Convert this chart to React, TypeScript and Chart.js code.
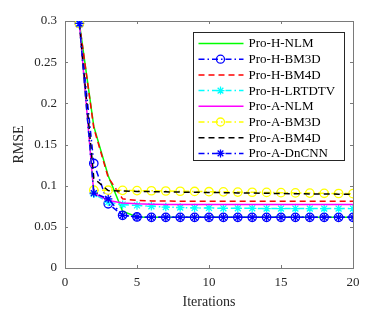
import React, { useEffect, useRef } from 'react';
import { Chart, registerables } from 'chart.js';

Chart.register(...registerables);

const iterations = [1, 2, 3, 4, 5, 6, 7, 8, 9, 10, 11, 12, 13, 14, 15, 16, 17, 18, 19, 20];

const seriesNames = [
  'Pro-H-NLM',
  'Pro-H-BM3D',
  'Pro-H-BM4D',
  'Pro-H-LRTDTV',
  'Pro-A-NLM',
  'Pro-A-BM3D',
  'Pro-A-BM4D',
  'Pro-A-DnCNN',
];

const hNLM = [0.297, 0.172, 0.112, 0.069, 0.062, 0.0615, 0.0615, 0.0615, 0.0615, 0.0615, 0.0615, 0.0615, 0.0615, 0.0615, 0.0615, 0.0615, 0.0615, 0.0615, 0.0615, 0.0615];
const hBM3D = [0.297, 0.127, 0.078, 0.064, 0.062, 0.0615, 0.0615, 0.0615, 0.0615, 0.0615, 0.0615, 0.0615, 0.0615, 0.0615, 0.0615, 0.0615, 0.0615, 0.0615, 0.0615, 0.0615];
const hBM4D = [0.297, 0.170, 0.110, 0.084, 0.082, 0.0815, 0.0815, 0.081, 0.081, 0.081, 0.081, 0.081, 0.081, 0.081, 0.081, 0.081, 0.081, 0.081, 0.081, 0.081];
const hLRTDTV = [0.297, 0.090, 0.080, 0.077, 0.076, 0.075, 0.074, 0.0735, 0.073, 0.073, 0.0725, 0.0725, 0.0725, 0.0722, 0.0722, 0.0722, 0.0722, 0.0722, 0.0722, 0.0722];
const aNLM = [0.297, 0.091, 0.082, 0.079, 0.078, 0.0775, 0.077, 0.077, 0.077, 0.077, 0.077, 0.077, 0.077, 0.077, 0.077, 0.077, 0.077, 0.077, 0.077, 0.077];
const aBM3D = [0.297, 0.0945, 0.0945, 0.0943, 0.094, 0.0938, 0.0935, 0.0932, 0.093, 0.0927, 0.0925, 0.0922, 0.092, 0.0918, 0.0915, 0.0912, 0.091, 0.0907, 0.0905, 0.0903];
const aBM4D = [0.297, 0.109, 0.094, 0.0935, 0.093, 0.0928, 0.0925, 0.0922, 0.092, 0.0917, 0.0915, 0.0912, 0.091, 0.0907, 0.0905, 0.0902, 0.09, 0.0898, 0.0897, 0.0895];
const aDnCNN = [0.297, 0.091, 0.084, 0.064, 0.062, 0.0615, 0.0615, 0.0615, 0.0615, 0.0615, 0.0615, 0.0615, 0.0615, 0.0615, 0.0615, 0.0615, 0.0615, 0.0615, 0.0615, 0.0615];

const xTicks = [0, 5, 10, 15, 20];
const yTicks = [0, 0.05, 0.1, 0.15, 0.2, 0.25, 0.3];

const seriesValues = [hNLM, hBM3D, hBM4D, hLRTDTV, aNLM, aBM3D, aBM4D, aDnCNN];
const seriesColors = ['#00ff00', '#0000ff', '#ff0000', '#00ffff', '#ff00ff', '#ffff00', '#000000', '#0000ff'];
const seriesMarkers: (string | null)[] = [null, 'circle', null, 'star', null, 'circle', null, 'star'];
const DASH = [6, 4];
const DASHDOT = [6, 3, 1.5, 3];
const seriesDash = [[], DASHDOT, DASH, DASHDOT, [], DASHDOT, DASH, DASHDOT];

const FONT = "'Liberation Serif', 'Times New Roman', serif";
const AXIS_COLOR = '#262626';
const LINE_W = 1.5;

function drawMarker(ctx: CanvasRenderingContext2D, type: string, x: number, y: number, r: number, color: string) {
  ctx.save();
  ctx.setLineDash([]);
  ctx.strokeStyle = color;
  ctx.lineWidth = 1.3;
  ctx.beginPath();
  if (type === 'circle') {
    ctx.arc(x, y, r, 0, Math.PI * 2);
  } else {
    for (let k = 0; k < 4; k++) {
      const a = (k * Math.PI) / 4;
      ctx.moveTo(x - Math.cos(a) * r, y - Math.sin(a) * r);
      ctx.lineTo(x + Math.cos(a) * r, y + Math.sin(a) * r);
    }
  }
  ctx.stroke();
  ctx.restore();
}

const framePlugin = {
  id: 'frame',
  beforeDatasetsDraw(chart: any) {
    const { ctx, chartArea } = chart;
    const { left, right, top, bottom } = chartArea;
    ctx.save();
    ctx.strokeStyle = '#7a7a7a';
    ctx.lineWidth = 1;
    ctx.setLineDash([]);
    ctx.strokeRect(Math.round(left) + 0.5, Math.round(top) + 0.5, Math.round(right - left), Math.round(bottom - top));
    ctx.beginPath();
    const tl = 3;
    xTicks.forEach((v) => {
      const px = Math.round(chart.scales.x.getPixelForValue(v)) + 0.5;
      ctx.moveTo(px, bottom);
      ctx.lineTo(px, bottom - tl);
      ctx.moveTo(px, top);
      ctx.lineTo(px, top + tl);
    });
    yTicks.forEach((v) => {
      const py = Math.round(chart.scales.y.getPixelForValue(v)) + 0.5;
      ctx.moveTo(left, py);
      ctx.lineTo(left + tl, py);
      ctx.moveTo(right, py);
      ctx.lineTo(right - tl, py);
    });
    ctx.stroke();
    ctx.restore();
  },
};

const legendPlugin = {
  id: 'boxLegend',
  afterDatasetsDraw(chart: any) {
    const { ctx, chartArea } = chart;
    const w = 151;
    const h = 128;
    const x0 = Math.round(chartArea.right - 160) + 0.5;
    const y0 = Math.round(chartArea.top + 11) + 0.5;
    ctx.save();
    ctx.fillStyle = '#ffffff';
    ctx.fillRect(x0, y0, w, h);
    ctx.strokeStyle = '#262626';
    ctx.lineWidth = 1;
    ctx.setLineDash([]);
    ctx.strokeRect(x0, y0, w, h);
    const rowH = 15.7;
    seriesNames.forEach((name, i) => {
      const cy = y0 + 11 + i * rowH;
      ctx.save();
      ctx.strokeStyle = seriesColors[i];
      ctx.lineWidth = LINE_W;
      ctx.setLineDash(seriesDash[i]);
      ctx.beginPath();
      ctx.moveTo(x0 + 5, cy);
      ctx.lineTo(x0 + 50, cy);
      ctx.stroke();
      ctx.restore();
      const m = seriesMarkers[i];
      if (m) drawMarker(ctx, m, x0 + 27, cy, 4, seriesColors[i]);
      ctx.fillStyle = '#000000';
      ctx.font = `13px ${FONT}`;
      ctx.textBaseline = 'middle';
      ctx.textAlign = 'left';
      ctx.fillText(name, x0 + 55, cy + 0.5);
    });
    ctx.restore();
  },
};

export default function App() {
  const canvasRef = useRef<HTMLCanvasElement | null>(null);

  useEffect(() => {
    const canvas = canvasRef.current;
    if (!canvas) return;
    const datasets = seriesNames.map((name, i) => ({
      label: name,
      data: seriesValues[i].map((v, j) => ({ x: iterations[j], y: v })),
      borderColor: seriesColors[i],
      backgroundColor: 'rgba(0,0,0,0)',
      borderWidth: LINE_W,
      borderDash: seriesDash[i],
      pointStyle: seriesMarkers[i] === 'star' ? 'star' : 'circle',
      pointRadius: seriesMarkers[i] ? 4.2 : 0,
      pointBorderWidth: 1.3,
      pointBorderColor: seriesColors[i],
      pointBackgroundColor: 'rgba(0,0,0,0)',
      tension: 0,
      fill: false,
      order: seriesNames.length - 1 - i,
    }));

    const chart = new Chart(canvas, {
      type: 'line',
      data: { datasets },
      options: {
        animation: false,
        responsive: false,
        devicePixelRatio: 1,
        layout: { padding: { top: 21, right: 28, left: 0, bottom: 0 } },
        plugins: {
          legend: { display: false },
          tooltip: { enabled: false },
        },
        scales: {
          x: {
            type: 'linear',
            min: 0,
            max: 20,
            grid: { display: false, drawTicks: false },
            border: { display: false },
            afterBuildTicks: (scale: any) => {
              scale.ticks = xTicks.map((v) => ({ value: v }));
            },
            afterFit: (scale: any) => {
              scale.height = 50;
            },
            ticks: {
              padding: 7,
              color: AXIS_COLOR,
              font: { family: FONT, size: 13 },
              maxRotation: 0,
              callback: (v: any) => String(v),
            },
            title: {
              display: true,
              text: 'Iterations',
              color: AXIS_COLOR,
              font: { family: FONT, size: 14 },
              padding: { top: 0, bottom: 7 },
            },
          },
          y: {
            type: 'linear',
            min: 0,
            max: 0.3,
            grid: { display: false, drawTicks: false },
            border: { display: false },
            afterBuildTicks: (scale: any) => {
              scale.ticks = yTicks.map((v) => ({ value: v }));
            },
            afterFit: (scale: any) => {
              scale.width = 65;
            },
            ticks: {
              padding: 8,
              color: AXIS_COLOR,
              font: { family: FONT, size: 13 },
              callback: (v: any) => String(+Number(v).toFixed(2)),
            },
            title: {
              display: true,
              text: 'RMSE',
              color: AXIS_COLOR,
              font: { family: FONT, size: 14 },
              padding: { top: 11, bottom: 0 },
            },
          },
        },
      },
      plugins: [framePlugin, legendPlugin],
    } as any);

    return () => chart.destroy();
  }, []);

  return (
    <div style={{ position: 'absolute', left: 0, top: 0, width: 381, height: 318, background: '#ffffff' }}>
      <canvas ref={canvasRef} width={381} height={318} style={{ width: 381, height: 318, display: 'block' }} />
    </div>
  );
}
